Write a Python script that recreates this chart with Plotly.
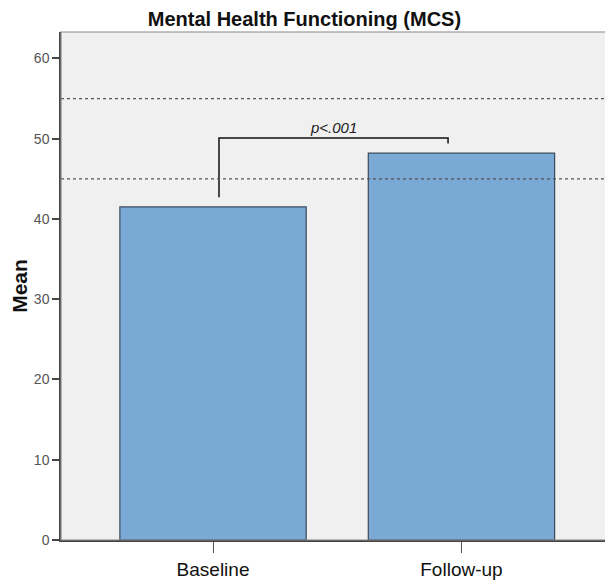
import plotly.graph_objects as go

categories = ["Baseline", "Follow-up"]
means = [41.5, 48.2]
ref_lines = [45, 55]
y_ticks = [0, 10, 20, 30, 40, 50, 60]
p_label = "p<.001"
bracket_y = [42.7, 50.1, 50.1, 49.4]

FONT = "Liberation Sans, Arial"

x_pos = list(range(len(categories)))

fig = go.Figure()
fig.add_trace(go.Bar(
    x=x_pos, y=means, width=0.75,
    marker=dict(color="#7aa9d6", line=dict(color="#3a4a5a", width=1.2)),
    hoverinfo="skip", showlegend=False,
))

for r in ref_lines:
    fig.add_shape(type="line", xref="paper", x0=0, x1=1, yref="y", y0=r, y1=r,
                  line=dict(color="#555555", width=1.2, dash="dot"), layer="above")

# significance bracket
bx = [x_pos[0] + 0.024, x_pos[0] + 0.024, x_pos[1] - 0.054, x_pos[1] - 0.054]
fig.add_trace(go.Scatter(x=bx, y=bracket_y, mode="lines",
                         line=dict(color="#111111", width=1.5),
                         hoverinfo="skip", showlegend=False))
fig.add_annotation(x=(bx[0] + bx[2]) / 2, y=bracket_y[1], text="<i>" + p_label + "</i>",
                   showarrow=False, yanchor="bottom", yshift=0,
                   font=dict(family=FONT, size=15, color="#222222"))

fig.update_layout(
    width=605, height=578,
    margin=dict(l=53, r=2, t=24, b=46),
    paper_bgcolor="white", plot_bgcolor="#f0f0f0",
    title=dict(text="<b>Mental Health Functioning (MCS)</b>", x=0.49, xanchor="center",
               y=1 - 11 / 578, yanchor="middle",
               font=dict(family=FONT, size=20, color="#111111")),
    xaxis=dict(range=[-0.612, 1.602], tickvals=x_pos, ticktext=categories,
               ticks="outside", ticklen=11, tickcolor="#555555", tickwidth=1.2,
               showgrid=False, zeroline=False, showline=True, linecolor="#444444",
               linewidth=1.5, mirror=False,
               tickfont=dict(family=FONT, size=19, color="#111111")),
    yaxis=dict(range=[0, 63.3], tickvals=y_ticks, ticks="outside", ticklen=7,
               tickcolor="#444444", tickwidth=1.5,
               showgrid=False, zeroline=False, showline=True, linecolor="#444444",
               linewidth=1.5,
               tickfont=dict(family=FONT, size=14, color="#555555"),
               title=dict(text="<b>Mean</b>", standoff=10,
                          font=dict(family=FONT, size=21, color="#111111"))),
)

# top and right plot border
fig.add_shape(type="rect", xref="paper", yref="paper", x0=0, x1=1, y0=0, y1=1,
              line=dict(color="#888888", width=1.2), layer="above")

fig.write_html("out.html")
